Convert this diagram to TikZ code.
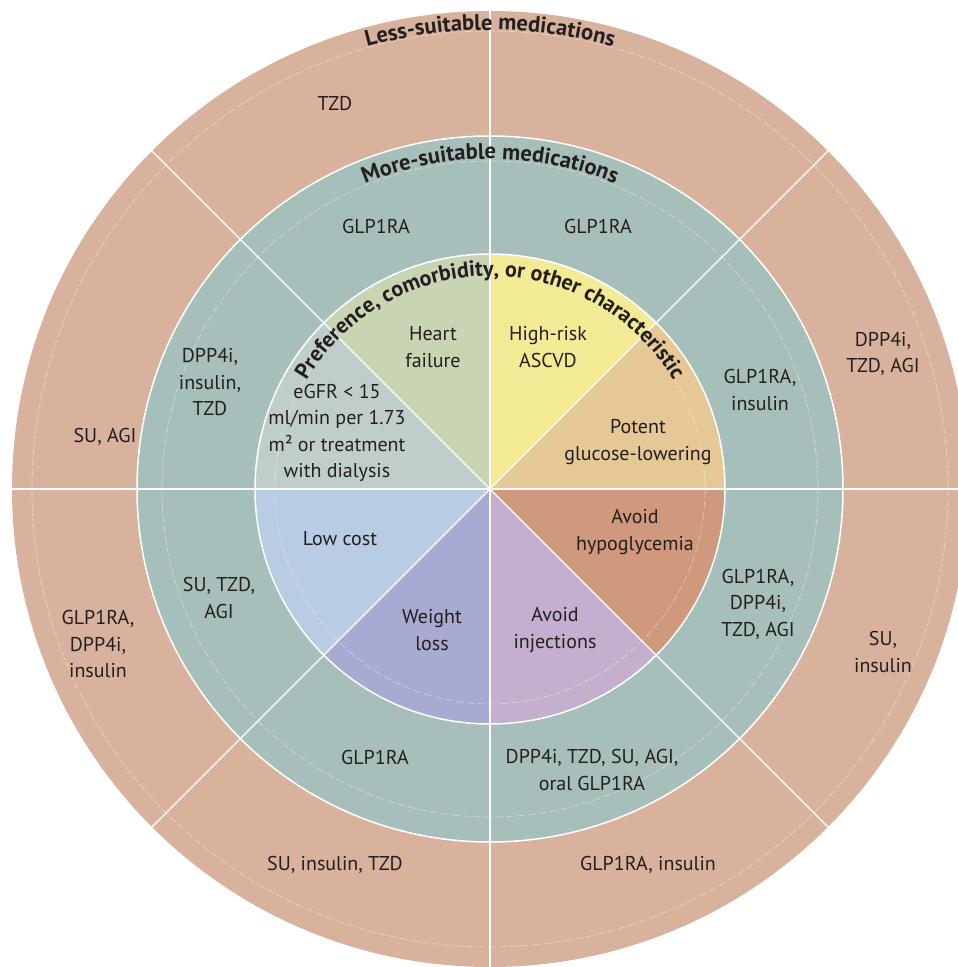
\documentclass[tikz,border=0pt]{standalone}
\usepackage{fontspec}
\setmainfont{PT Sans}
\usetikzlibrary{decorations.text}
\definecolor{outerc}{RGB}{217,178,157}
\definecolor{midc}{RGB}{167,191,186}
\definecolor{hfc}{RGB}{200,212,178}
\definecolor{ascvdc}{RGB}{243,234,150}
\definecolor{potc}{RGB}{230,200,150}
\definecolor{hypoc}{RGB}{208,152,124}
\definecolor{injc}{RGB}{196,176,206}
\definecolor{wlc}{RGB}{168,170,210}
\definecolor{lowc}{RGB}{184,204,228}
\definecolor{egfrc}{RGB}{192,206,203}
\definecolor{txt}{RGB}{35,31,32}
\begin{document}
\begin{tikzpicture}[x=1pt,y=1pt,
  lbl/.style={align=center, font=\fontsize{20}{26.5}\selectfont, text=txt, inner sep=0pt},
  sepline/.style={white, line width=1.2},
  ringedge/.style={white, line width=1.5},
  faint/.style={white, opacity=0.45, line width=0.6, dash pattern=on 8pt off 3pt}]
\clip (-490,-478) rectangle (468,489);
% rings
\fill[outerc] (0,0) circle (478);
\fill[midc] (0,0) circle (353);
% inner sectors
\foreach \a/\b/\c in {90/135/hfc, 45/90/ascvdc, 0/45/potc, -45/0/hypoc, -90/-45/injc, -135/-90/wlc, 180/225/lowc, 135/180/egfrc}{
  \fill[\c] (0,0) -- (\a:235) arc[start angle=\a, end angle=\b, radius=235] -- cycle;
}
% faint circles
\draw[faint] (0,0) circle (458);
\draw[faint] (0,0) circle (328);
\draw[faint] (0,0) circle (215);
% ring edges
\draw[ringedge] (0,0) circle (353);
\draw[ringedge] (0,0) circle (235);
% radial separators
\foreach \a in {0,45,...,315}{
  \draw[sepline] (0,0) -- (\a:478);
}
% curved titles
\path[decorate, decoration={text along path, text align=center, text color=txt,
  text={|\fontsize{22.5}{26}\selectfont\bfseries|Less-suitable medications}}]
  (180:459) arc[start angle=180, end angle=0, radius=459];
\path[decorate, decoration={text along path, text align=center, text color=txt,
  text={|\fontsize{22.5}{26}\selectfont\bfseries|More-suitable medications}}]
  (180:330) arc[start angle=180, end angle=0, radius=330];
\path[decorate, decoration={text along path, text align=center, text color=txt,
  text={|\fontsize{22}{26}\selectfont\bfseries|Preference, comorbidity, or other characteristic}}]
  (180:213) arc[start angle=180, end angle=0, radius=213];
% outer ring labels
\node[lbl] (o1) at (-155,385) {TZD};
\node[lbl] (o2) at (-385,52) {SU, AGI};
\node[lbl] (o3) at (393,135) {DPP4i,\\TZD, AGI};
\node[lbl] (o4) at (393,-163) {SU,\\insulin};
\node[lbl] (o5) at (-392,-155) {GLP1RA,\\DPP4i,\\insulin};
\node[lbl] (o6) at (-155,-376) {SU, insulin, TZD};
\node[lbl] (o7) at (158,-376) {GLP1RA, insulin};
% middle ring labels
\node[lbl] (m1) at (-114,262) {GLP1RA};
\node[lbl] (m2) at (108,262) {GLP1RA};
\node[lbl] (m3) at (-280,107) {DPP4i,\\insulin,\\TZD};
\node[lbl] (m4) at (270,99) {GLP1RA,\\insulin};
\node[lbl] (m5) at (-271,-109) {SU, TZD,\\AGI};
\node[lbl] (m6) at (268,-115) {GLP1RA,\\DPP4i,\\TZD, AGI};
\node[lbl] (m7) at (-115,-268) {GLP1RA};
\node[lbl] (m8) at (102,-281) {DPP4i, TZD, SU, AGI,\\oral GLP1RA};
% inner labels
\node[lbl] (i1) at (-57,142) {Heart\\failure};
\node[lbl] (i2) at (58,142) {High-risk\\ASCVD};
\node[lbl] (i3) at (148,47) {Potent\\glucose-lowering};
\node[lbl] (i4) at (145,-43) {Avoid\\hypoglycemia};
\node[lbl] (i5) at (65,-141) {Avoid\\injections};
\node[lbl] (i6) at (-58,-141) {Weight\\loss};
\node[lbl] (i7) at (-150,-50) {Low cost};
\node[lbl] (i8) at (-153,56) {eGFR < 15\\ml/min per 1.73\\m² or treatment\\with dialysis};
\end{tikzpicture}
\end{document}
